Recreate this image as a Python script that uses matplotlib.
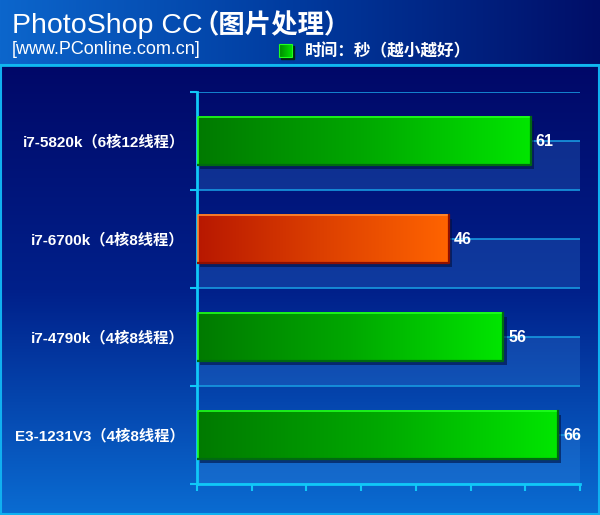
import matplotlib.pyplot as plt
import numpy as np
from matplotlib.colors import LinearSegmentedColormap
from matplotlib.patches import Rectangle

# data
labels = ['i7-5820k（6核12线程）', 'i7-6700k（4核8线程）',
          'i7-4790k（4核8线程）', 'E3-1231V3（4核8线程）']
values = [61, 46, 56, 66]
highlight = [False, True, False, False]
title_latin = 'PhotoShop CC'
title_cjk = '（图片处理）'
subtitle = '[www.PConline.com.cn]'
legend_text = '时间：秒（越小越好）'

FAM = ['Liberation Sans', 'Noto Sans CJK SC', 'DejaVu Sans']
plt.rcParams['font.family'] = FAM

W, H = 600, 515
fig = plt.figure(figsize=(6, 5.15), dpi=100)

# background: header band + panel
bg = fig.add_axes([0, 0, 1, 1])
bg.set_xlim(0, W)
bg.set_ylim(H, 0)
bg.axis('off')
head = LinearSegmentedColormap.from_list('head', ['#0c66cc', '#003a9e', '#000e68'])
panel = LinearSegmentedColormap.from_list('panel', ['#000868', '#00208a', '#0a6cd2'])
gx = np.linspace(0, 1, 256).reshape(1, -1)
bg.imshow(gx, cmap=head, extent=(0, W, 65, 0), aspect='auto')
gy = np.linspace(0, 1, 256).reshape(-1, 1)
bg.imshow(gy, cmap=panel, extent=(0, W, H, 65), aspect='auto')
bg.add_patch(Rectangle((0.5, 65), W - 1.5, H - 66.5, fill=False, ec='#10b0f0', lw=1.5))
bg.plot([0, W], [65, 65], color='#10b8f0', lw=2)

# titles and legend
bg.text(12, 33, title_latin, color='white', fontsize=20.5, va='baseline', ha='left')
bg.text(192, 33, title_cjk, color='white', fontsize=19, fontweight='bold',
        va='baseline', ha='left')
bg.text(12, 54, subtitle, color='white', fontsize=13, va='baseline', ha='left')
bg.add_patch(Rectangle((281, 46), 13, 13, color='#002a10'))
leg = LinearSegmentedColormap.from_list('leg', ['#008800', '#00e000'])
bg.imshow(gx, cmap=leg, extent=(279, 292, 57, 44), aspect='auto', zorder=3)
bg.add_patch(Rectangle((279, 44), 13, 13, fill=False, ec='#20ff20', lw=0.8, zorder=4))
bg.text(305, 51, legend_text, color='white', fontsize=12, fontweight='bold',
        va='center', ha='left')

# main axes
ax = fig.add_axes([197 / W, 1 - 484 / H, 383 / W, 392 / H])
ax.set_facecolor('none')
ax.set_xlim(0, 70)
ax.set_ylim(len(labels) - 0.5, -0.5)

# back wall stripes
for i in range(len(labels)):
    ax.add_patch(Rectangle((0, i), 70, 0.5, color='#3a8ae0', alpha=0.25, lw=0, zorder=0))
for yy in np.arange(-0.5, len(labels) - 0.4, 0.5):
    ax.plot([0, 70], [yy, yy], color='#1898e0', lw=1.2, zorder=1)

green = LinearSegmentedColormap.from_list('g', ['#007a00', '#00a800', '#00e600'])
red = LinearSegmentedColormap.from_list('r', ['#b81800', '#dd4000', '#ff6400'])
bars = ax.barh(range(len(labels)), values, height=0.49, color='none', zorder=3)
for bar, v, hl in zip(bars, values, highlight):
    x0, y0 = bar.get_x(), bar.get_y()
    w, h = bar.get_width(), bar.get_height()
    # shadow
    ax.add_patch(Rectangle((x0 + 0.6, y0 + 0.04), w, h, color='#001040', alpha=0.6,
                           lw=0, zorder=2))
    ax.imshow(gx, cmap=red if hl else green, extent=(x0 + 0.2, x0 + w, y0 + h, y0),
              aspect='auto', zorder=3)
    ec_light = '#ff8a30' if hl else '#20ff20'
    ec_dark = '#901000' if hl else '#006a10'
    ax.plot([x0 + 0.2, x0 + 0.2, x0 + w], [y0 + h, y0, y0], color=ec_light, lw=1.2, zorder=4)
    ax.plot([x0 + 0.2, x0 + w, x0 + w], [y0 + h, y0 + h, y0], color=ec_dark, lw=1.6, zorder=4)
    ax.text(v + 0.9, bar.get_y() + h / 2, str(v), color='white', fontsize=11.5,
            fontweight='bold', va='center', ha='left', zorder=5)

ax.set_yticks(range(len(labels)))
ax.set_yticklabels(labels, color='white', fontsize=11, fontweight='bold')
ax.set_yticks(np.arange(-0.5, len(labels), 1), minor=True)
ax.tick_params(axis='y', which='major', length=0, pad=9)
ax.tick_params(axis='y', which='minor', length=5, width=1.5, color='#10c8f8')
ax.set_xticks(np.arange(0, 71, 10))
ax.tick_params(axis='x', length=5, width=1.5, color='#10c8f8', labelbottom=False,
               direction='out')
for s in ['top', 'right']:
    ax.spines[s].set_visible(False)
for s in ['left', 'bottom']:
    ax.spines[s].set_color('#10c8f8')
    ax.spines[s].set_linewidth(2)

fig.savefig('out.png', dpi=100)
